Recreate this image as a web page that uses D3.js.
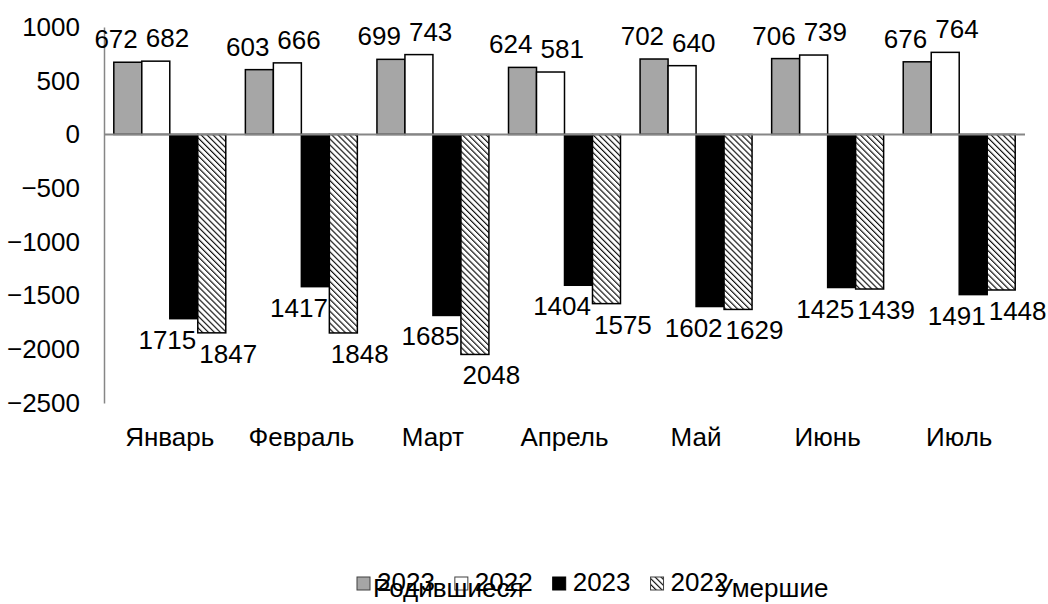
<!DOCTYPE html>
<html>
<head>
<meta charset="utf-8">
<script src="https://cdn.jsdelivr.net/npm/d3@7"></script>
<style>
body { margin: 0; background: white; }
text { font-family: "Liberation Sans", Arial, sans-serif; }
</style>
</head>
<body>
<script>
const largeur = 1048;
const hauteur = 604;

const mois = ["Январь", "Февраль", "Март", "Апрель", "Май", "Июнь", "Июль"];
const series = ["nais2023", "nais2022", "deces2023", "deces2022"];
const annees = ["2023", "2022", "2023", "2022"];
const groupes = ["Родившиеся", "Умершие"];

const naissances2023 = [672, 603, 699, 624, 702, 706, 676];
const naissances2022 = [682, 666, 743, 581, 640, 739, 764];
const deces2023 = [-1715, -1417, -1685, -1404, -1602, -1425, -1491];
const deces2022 = [-1847, -1848, -2048, -1575, -1629, -1439, -1448];

const valeursY = [1000, 500, 0, -500, -1000, -1500, -2000, -2500];

const valeurs = [naissances2023, naissances2022, deces2023, deces2022];

const svg = d3
.select("body")
.append("svg")
.attr("width", largeur)
.attr("height", hauteur);

// motif hachuré
const defs = svg.append("defs");
const motif = defs.append("pattern")
.attr("id", "hachures")
.attr("patternUnits", "userSpaceOnUse")
.attr("width", 4.2)
.attr("height", 4.2)
.attr("patternTransform", "rotate(-45)");
motif.append("rect").attr("width", 4.2).attr("height", 4.2).attr("fill", "white");
motif.append("line")
.attr("x1", 0.6).attr("y1", 0).attr("x2", 0.6).attr("y2", 4.2)
.attr("stroke", "black")
.attr("stroke-width", 1.1);

const remplissages = ["#a6a6a6", "white", "black", "url(#hachures)"];

const x0 = d3.scaleBand()
.domain(mois)
.range([104, 1025])
.padding(0);

const x1 = d3.scaleBand()
.domain(series)
.range([0, x0.bandwidth()])
.paddingInner(0)
.paddingOuter(0.35);

const y = d3.scaleLinear()
.domain([-2500, 1000])
.range([403, 27]);

// axe Y
const axeY = svg.append("g")
.attr("transform", "translate(104,0)")
.call(d3.axisLeft(y).tickValues(valeursY).tickSize(0).tickPadding(24).tickFormat(d3.format("d")));
axeY.select(".domain").attr("stroke", "#868686").attr("stroke-width", 1.5);
axeY.selectAll("text")
.attr("font-size", 26)
.attr("fill", "black")
.attr("font-family", "Liberation Sans, Arial, sans-serif");

const donnees = [];
mois.forEach(function(m, i)
{
    series.forEach(function(s, j)
    {
        donnees.push({ mois: m, serie: s, index: j, valeur: valeurs[j][i] });
    });
});

// barres
svg.append("g")
.selectAll("rect")
.data(donnees)
.enter()
.append("rect")
.attr("x", function(d) { return x0(d.mois) + x1(d.serie); })
.attr("width", x1.bandwidth())
.attr("y", function(d) { return y(Math.max(0, d.valeur)); })
.attr("height", function(d) { return Math.abs(y(d.valeur) - y(0)); })
.attr("fill", function(d) { return remplissages[d.index]; })
.attr("stroke", "black")
.attr("stroke-width", 1.5);

// ligne zéro
svg.append("line")
.attr("x1", 104)
.attr("x2", 1025)
.attr("y1", y(0))
.attr("y2", y(0))
.attr("stroke", "#868686")
.attr("stroke-width", 2);

// étiquettes
const etiquettes = svg.append("g")
.selectAll("text")
.data(donnees)
.enter()
.append("text")
.attr("font-size", 26)
.attr("text-anchor", "middle")
.attr("x", function(d) { return x0(d.mois) + x1(d.serie) + x1.bandwidth() / 2; })
.attr("y", function(d)
{
    if(d.valeur >= 0)
    {
        return y(d.valeur) - 14;
    }
    else
    {
        return y(d.valeur) + 30;
    }
})
.text(function(d) { return Math.abs(d.valeur); });

// écarter les étiquettes qui se chevauchent
const noeuds = etiquettes.nodes();
for(let k = 0; k < noeuds.length; k += 2)
{
    const a = noeuds[k];
    const b = noeuds[k + 1];
    const xa = +a.getAttribute("x");
    const xb = +b.getAttribute("x");
    const pad = (k % 4 == 0) ? 8 : 3;
    const ecart = (a.getComputedTextLength() + b.getComputedTextLength()) / 2 + pad;
    if(xb - xa < ecart)
    {
        const dec = (ecart - (xb - xa)) / 2;
        a.setAttribute("x", xa - dec);
        b.setAttribute("x", xb + dec);
    }
}

// catégories
svg.append("g")
.selectAll("text")
.data(mois)
.enter()
.append("text")
.attr("x", function(d) { return x0(d) + x0.bandwidth() / 2; })
.attr("y", 446)
.attr("text-anchor", "middle")
.attr("font-size", 26)
.text(function(d) { return d; });

// légende
const legende = svg.append("g");
let lx = 357;
let finTexte = 0;
const positionsGroupes = [];
annees.forEach(function(a, i)
{
    legende.append("rect")
    .attr("x", lx)
    .attr("y", 577)
    .attr("width", 13)
    .attr("height", 13)
    .attr("fill", remplissages[i])
    .attr("stroke", i == 2 ? "black" : "#404040")
    .attr("stroke-width", 1);
    const t = legende.append("text")
    .attr("x", lx + 20)
    .attr("y", 591)
    .attr("font-size", 26)
    .text(a);
    if(i % 2 == 0)
    {
        positionsGroupes.push(lx + 16);
    }
    finTexte = lx + 20 + t.node().getComputedTextLength();
    lx = finTexte + 20;
});

legende.selectAll(".groupe")
.data(groupes)
.enter()
.append("text")
.attr("class", "groupe")
.attr("x", function(d, i) { return i == 0 ? positionsGroupes[0] : finTexte - 12; })
.attr("y", 597)
.attr("font-size", 26)
.text(function(d) { return d; });
</script>
</body>
</html>
